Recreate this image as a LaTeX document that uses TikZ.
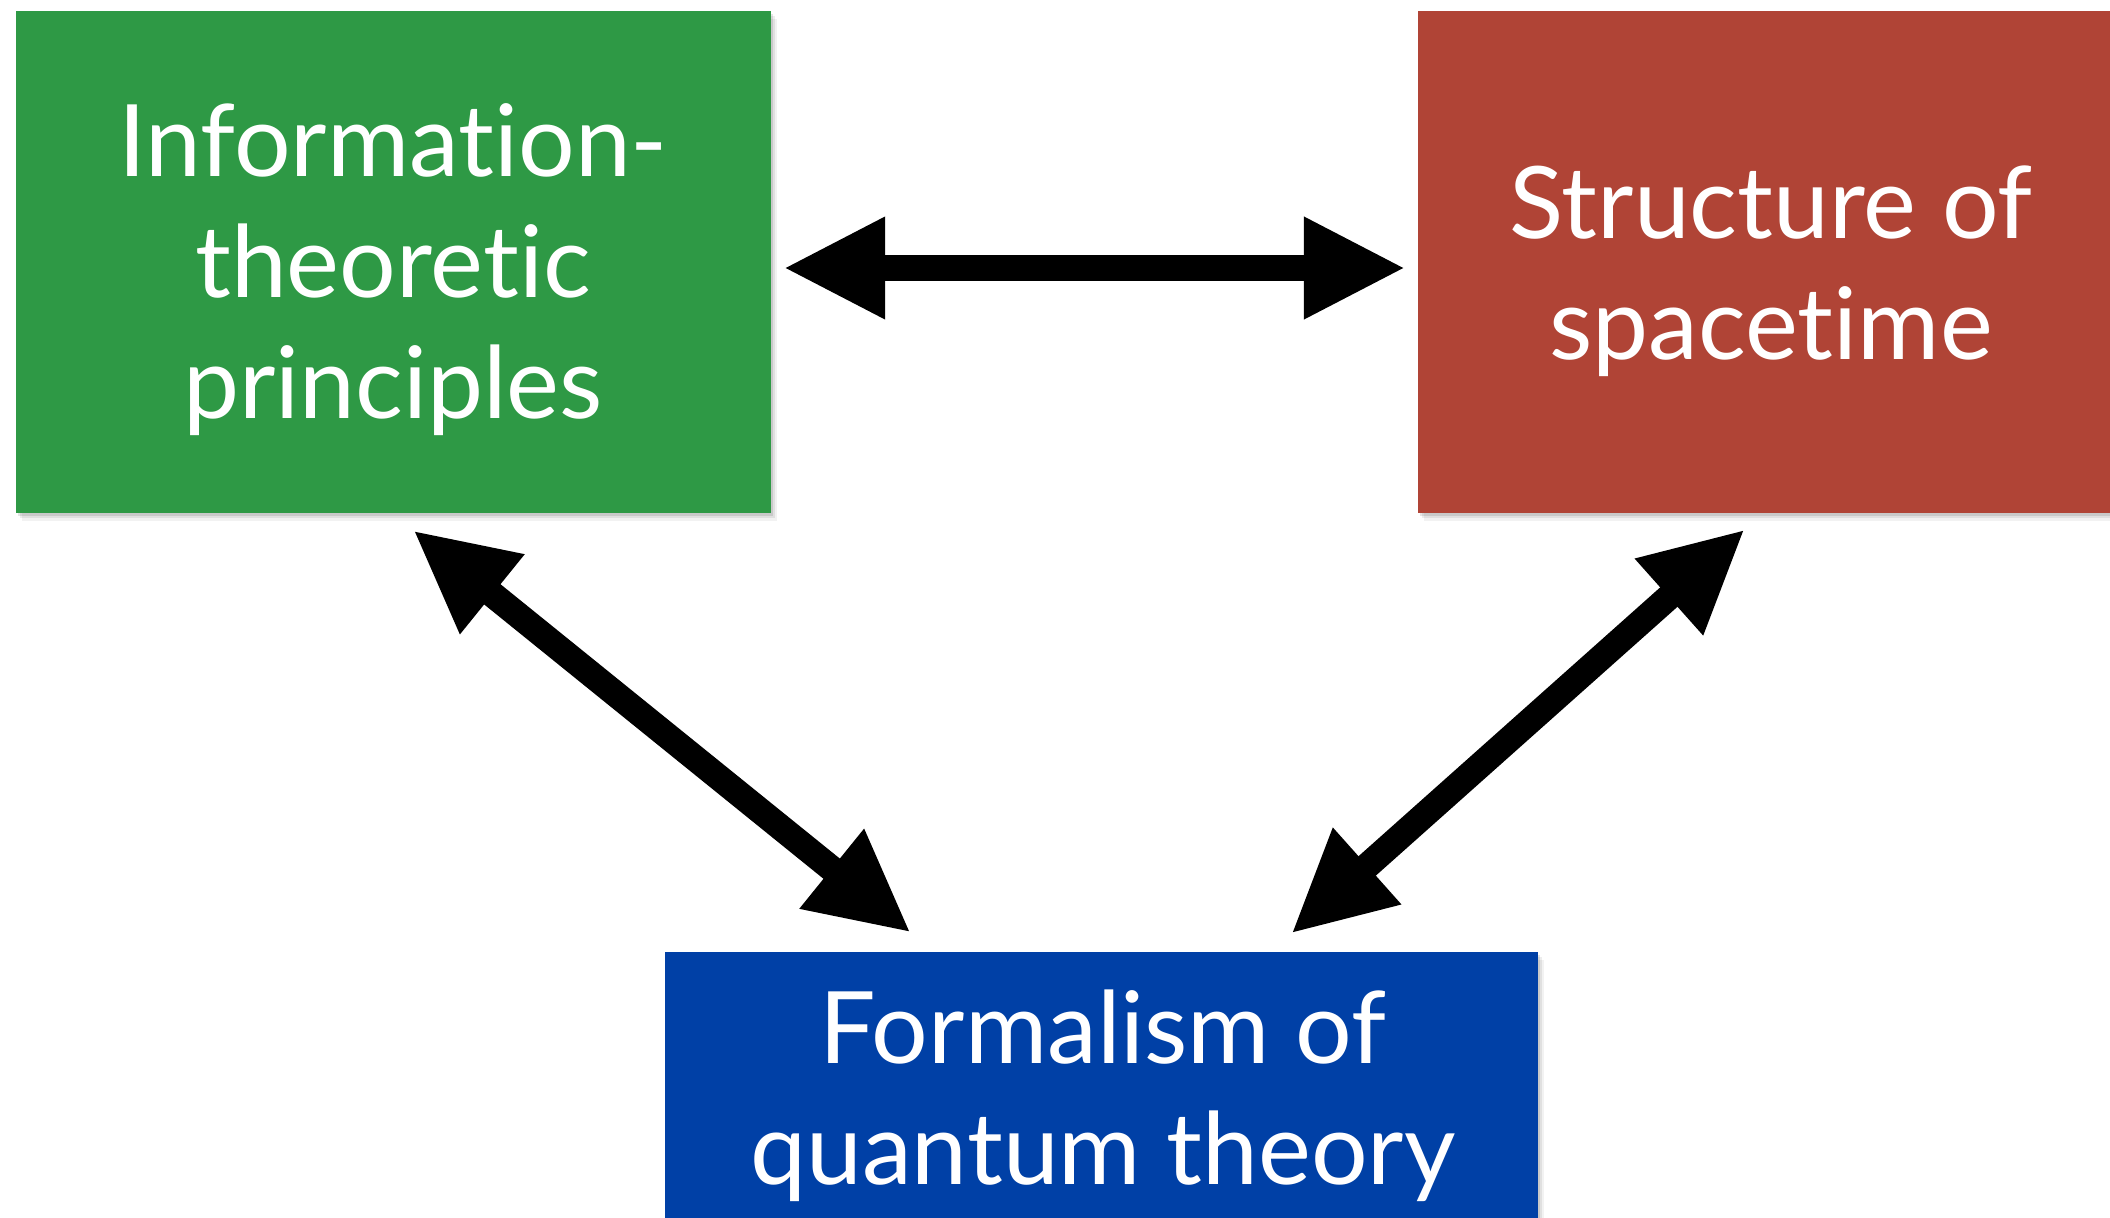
\documentclass[tikz,border=0pt]{standalone}
\usepackage{fontspec}
\setmainfont[Ligatures={NoCommon,NoContextual},RawFeature={-liga;-dlig;-calt}]{Lato}
\usetikzlibrary{arrows.meta,calc,shadows}
\definecolor{cardgreen}{RGB}{46,153,69}
\definecolor{cardred}{RGB}{176,68,54}
\definecolor{cardblue}{RGB}{0,64,166}
\tikzset{
  card/.style={rectangle, inner sep=0pt, draw=none,
    drop shadow={shadow xshift=2pt, shadow yshift=-3pt, opacity=0.10, fill=black},
    drop shadow={shadow xshift=4pt, shadow yshift=-5pt, opacity=0.07, fill=black},
    drop shadow={shadow xshift=6pt, shadow yshift=-8pt, opacity=0.05, fill=black}},
  cardtext/.style={text=white, align=center, inner sep=0pt,
    font=\fontsize{100}{121}\selectfont},
  dbl/.style={line width=26pt, draw=black,
    {Triangle[length=102pt,width=95pt]}-{Triangle[length=102pt,width=95pt]}}
}
\begin{document}
\begin{tikzpicture}[x=1pt,y=-1pt]
\useasboundingbox (0,0) rectangle (2110,1218);
\clip (0,0) rectangle (2110,1218);
\fill[white] (0,0) rectangle (2110,1218);
% boxes
\node[card, fill=cardgreen, minimum width=755pt, minimum height=502pt] (g) at (393.5,262) {};
\node[card, fill=cardred, minimum width=692pt, minimum height=502pt] (r) at (1764,262) {};
\node[card, fill=cardblue, minimum width=873pt, minimum height=320pt] (b) at (1101.5,1112) {};
% texts
\node[cardtext] (gt) at (393,270) {Information-\\theoretic\\principles};
\node[cardtext] (rt) at (1771,271) {Structure of\\spacetime};
\node[cardtext] (bt) at (1103,1096) {Formalism of\\quantum theory};
% connectors
\draw[dbl] ($(g.east)+(12,6)$) -- ($(r.west)+(-12,6)$);
\draw[dbl] ($(g.south)+(19.5,17)$) -- ($(b.north)+(-190.5,-19)$);
\draw[dbl] ($(r.south)+(-19,16)$) -- ($(b.north)+(189.5,-18)$);
\end{tikzpicture}
\end{document}
